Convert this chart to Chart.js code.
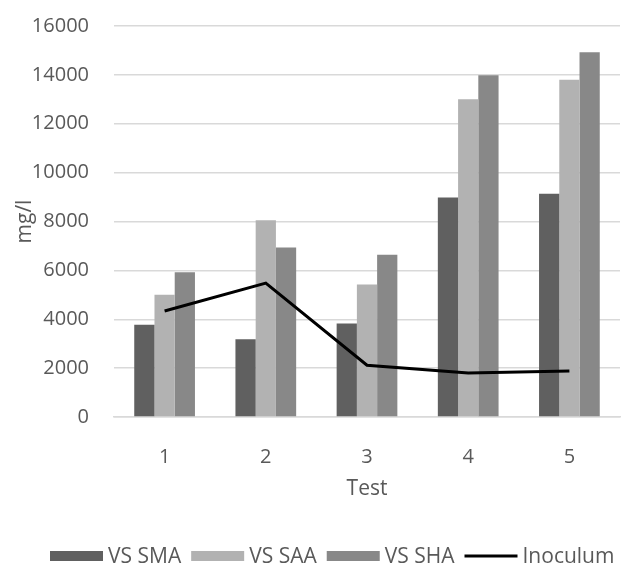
<!DOCTYPE html>
<html>
<head>
<meta charset="utf-8">
<script src="https://cdn.jsdelivr.net/npm/chart.js@4.4.0/dist/chart.umd.min.js"></script>
<style>
  html, body { margin: 0; padding: 0; background: #fff; }
  #wrap { width: 622px; height: 565px; }
</style>
</head>
<body>
<div id="wrap"><canvas id="testChart" width="622" height="565"></canvas></div>
<script>
const categories = ['1', '2', '3', '4', '5'];
const vsSMA = [3780, 3180, 3830, 8980, 9140];
const vsSAA = [5000, 8050, 5420, 13000, 13800];
const vsSHA = [5920, 6940, 6640, 13980, 14930];
const inoculum = [4340, 5480, 2120, 1800, 1880];
const yTicks = [0, 2000, 4000, 6000, 8000, 10000, 12000, 14000, 16000];

const FONT = '"Open Sans", "Noto Sans", sans-serif';
const GREY_TEXT = '#595959';

// legend drawn by hand so the line entry looks like a line
const legendPlugin = {
    id: 'excelLegend',
    afterDraw(chart) {
        const ctx = chart.ctx;
        ctx.save();
        ctx.font = '21px ' + FONT;
        ctx.textBaseline = 'middle';
        const y = 556;
        let x = 50;
        chart.data.datasets.forEach(function(ds) {
            if (ds.type === 'line') {
                ctx.strokeStyle = ds.borderColor;
                ctx.lineWidth = 3;
                ctx.beginPath();
                ctx.moveTo(x, y);
                ctx.lineTo(x + 53, y);
                ctx.stroke();
            } else {
                ctx.fillStyle = ds.backgroundColor;
                ctx.fillRect(x, y - 5, 53, 10);
            }
            x += 58;
            ctx.fillStyle = GREY_TEXT;
            ctx.fillText(ds.label, x, y + 1);
            x += ctx.measureText(ds.label).width + 10;
        });
        ctx.restore();
    }
};

const ctx = document.getElementById('testChart').getContext('2d');

new Chart(ctx, {
    data: {
        labels: categories,
        datasets: [
            { type: 'bar', label: 'VS SMA', data: vsSMA, backgroundColor: '#606060', order: 1 },
            { type: 'bar', label: 'VS SAA', data: vsSAA, backgroundColor: '#b2b2b2', order: 1 },
            { type: 'bar', label: 'VS SHA', data: vsSHA, backgroundColor: '#888888', order: 1 },
            { type: 'line', label: 'Inoculum', data: inoculum, borderColor: '#000000', backgroundColor: '#000000',
              borderWidth: 3, pointRadius: 0, tension: 0, order: 0 }
        ]
    },
    options: {
        responsive: false,
        animation: false,
        layout: { padding: { left: 12, right: 2, top: 26, bottom: 59 } },
        datasets: {
            bar: { categoryPercentage: 0.6, barPercentage: 1.0 }
        },
        plugins: {
            legend: { display: false },
            tooltip: { enabled: false }
        },
        scales: {
            x: {
                grid: { display: false },
                border: { color: '#d9d9d9', width: 1.5 },
                ticks: { color: GREY_TEXT, font: { family: FONT, size: 20 }, padding: 20 },
                title: { display: true, text: 'Test', color: GREY_TEXT, font: { family: FONT, size: 21 }, padding: { top: 0 } },
                afterFit(scale) { scale.height = 89; }
            },
            y: {
                min: 0,
                max: 16000,
                afterBuildTicks(scale) { scale.ticks = yTicks.map(function(v) { return { value: v }; }); },
                grid: { color: '#d9d9d9', lineWidth: 1.5, drawTicks: false },
                border: { display: false },
                ticks: { color: GREY_TEXT, font: { family: FONT, size: 20 }, padding: 25,
                         callback: function(v) { return String(v); } },
                title: { display: true, text: 'mg/l', color: GREY_TEXT, font: { family: FONT, size: 21 }, padding: 0 },
                afterFit(scale) {
                    scale.width = 102;
                    scale.paddingTop = 0;
                    scale.paddingBottom = 0;
                }
            }
        }
    },
    plugins: [legendPlugin]
});
</script>
</body>
</html>
